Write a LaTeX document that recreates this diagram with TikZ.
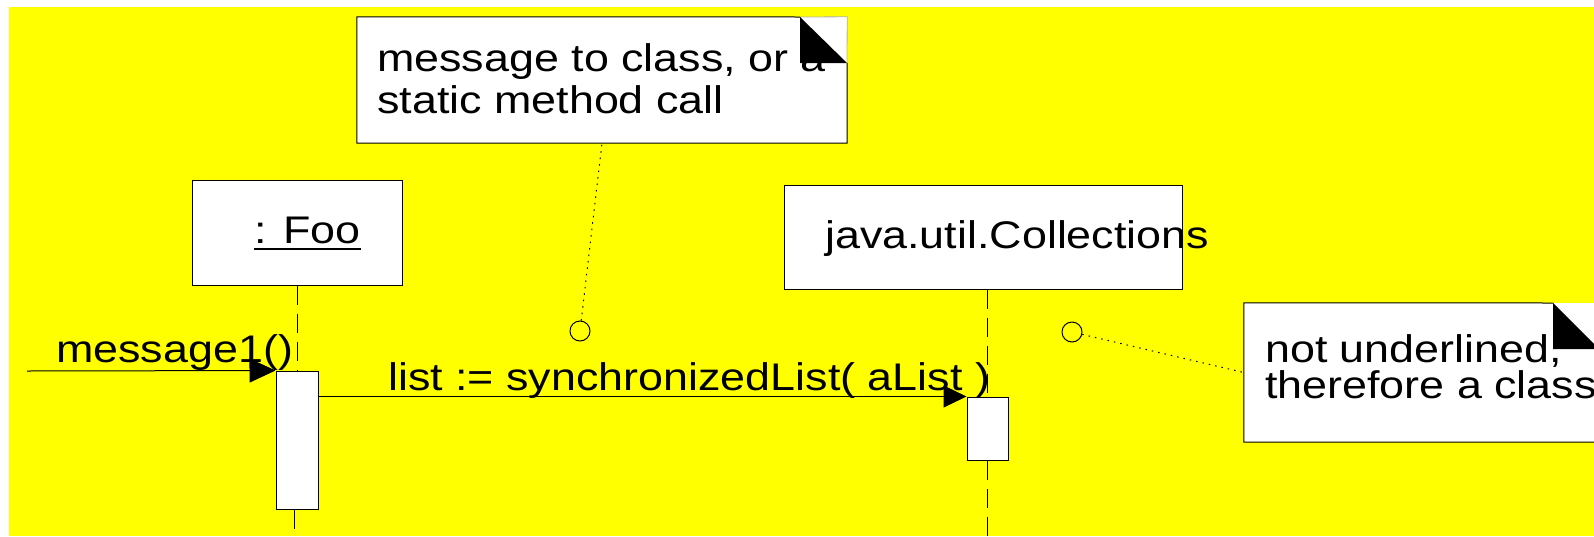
\documentclass[tikz,border=0pt]{standalone}
\usepackage{fontspec}
\newfontfamily\df[FakeStretch=1.165]{Liberation Sans}
\usetikzlibrary{arrows.meta}
\definecolor{bgy}{RGB}{255,255,0}
\begin{document}
\begin{tikzpicture}[x=1pt,y=-1pt,
  txt/.style={font=\df\fontsize{38.5}{42}\selectfont, inner sep=0pt, anchor=base west},
  box/.style={draw, fill=white, line width=1pt, inner sep=0pt},
  notebg/.style={fill=white, inner sep=0pt},
  lifeline/.style={line width=1pt, dash pattern=on 19pt off 9pt},
  dots/.style={line width=1pt, dash pattern=on 1.5pt off 5pt},
  anchorcirc/.style={draw, circle, minimum size=20pt, inner sep=0pt, line width=1pt},
  msg/.style={line width=1pt}]
\useasboundingbox (0,0) rectangle (1594,536);
\clip (0,0) rectangle (1594,536);
\fill[white] (0,0) rectangle (1594,536);
\fill[bgy] (9,7) rectangle (1594,536);

% note 1
\node[notebg, minimum width=490pt, minimum height=126pt] (note1) at (602,80) {};
\node[txt] (n1a) at (377,71) {message to class, or a};
\node[txt] (n1b) at (377,113) {static method call};
\draw[line width=1pt] (800,17) -- (note1.north west) -- (note1.south west) -- (note1.south east) -- (847,63);
\draw[line width=0.8pt, black!30] (800,17) -- (note1.north east) -- (847,63);
\fill (800,17) -- (800,63) -- (847,63) -- cycle;

% note 2
\node[notebg, minimum width=355pt, minimum height=139pt] (note2) at (1421.5,372.5) {};
\node[txt] (n2a) at (1265,362) {not underlined,};
\node[txt] (n2b) at (1265,398) {therefore a class};
\draw[line width=1pt] (1553,303) -- (note2.north west) -- (note2.south west) -- (note2.south east) -- (1599,349);
\fill (1553,303) -- (1553,349) -- (1599,349) -- cycle;

% lifeline heads
\node[box, minimum width=210pt, minimum height=105pt] (foo) at (297,232.5) {};
\node[txt] (foolbl) at (254,243) {: Foo};
\draw[line width=2pt] ([yshift=-6pt]foolbl.base west) -- ([yshift=-6pt]foolbl.base east);
\node[box, minimum width=398pt, minimum height=104pt] (coll) at (983,237) {};
\node[txt] (colllbl) at (825,248) {java.util.Collections};

% activations
\node[box, minimum width=42pt, minimum height=138pt] (act1) at (297,440) {};
\node[box, minimum width=41pt, minimum height=63pt] (act2) at (987.5,428.5) {};

% lifelines
\coordinate (fooend) at (294,536);
\coordinate (collend) at (987.5,536);
\draw[lifeline] (foo.south) -- (act1.north);
\draw[lifeline] (act1.south -| fooend) -- (fooend);
\draw[lifeline] (act2.north |- coll.south) -- (act2.north);
\draw[lifeline] (act2.south) -- (collend);

% messages
\coordinate (m1start) at (27,371);
\node[txt] (m1lbl) at (56,362) {message1()};
\node[txt] (synclbl) at (388,390) {list := synchronizedList( aList )};
\draw[msg, -{Triangle[length=26pt,width=24pt]}] (m1start) -- (act1.north west);
\draw[msg, -{Triangle[length=23pt,width=22pt]}] (act1.east |- act2.north west) -- (act2.north west);

% note anchors
\node[anchorcirc] (c1) at (580,331) {};
\node[anchorcirc] (c2) at (1072,332) {};
\draw[dots] (c1) -- (note1.south);
\draw[dots] (c2) -- (note2.west);
\end{tikzpicture}
\end{document}
